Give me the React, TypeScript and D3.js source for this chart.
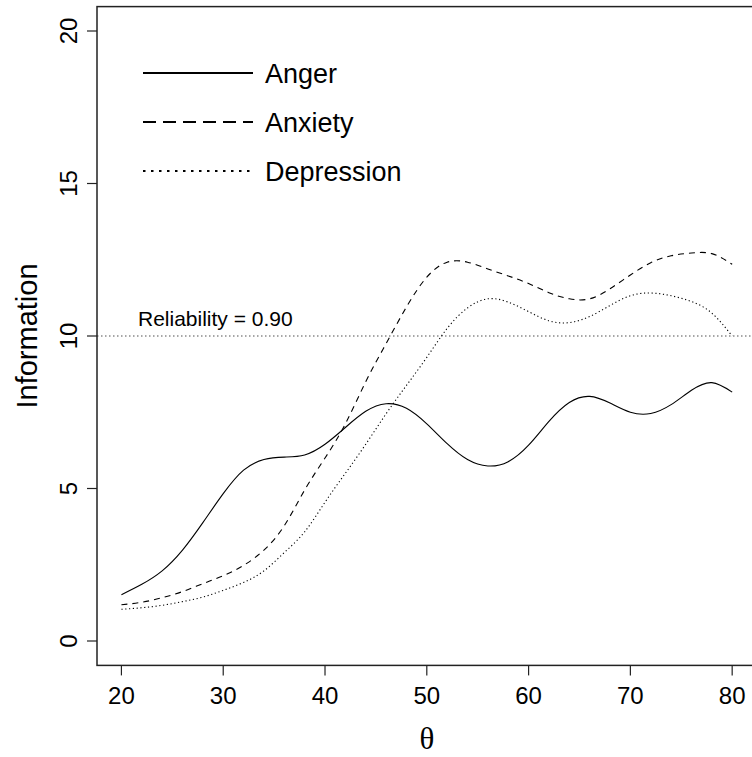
import React, { useEffect, useRef } from 'react';
import * as d3 from 'd3';

// theta grid shared by all three curves
const theta = [20, 22, 24, 26, 28, 30, 32, 34, 36, 38, 40, 42, 44, 46, 48, 50, 52, 54, 56, 58, 60, 62, 64, 66, 68, 70, 72, 74, 76, 78, 80];

const anger = [1.52, 1.86, 2.30, 2.98, 3.88, 4.83, 5.60, 5.95, 6.03, 6.10, 6.45, 7.00, 7.53, 7.78, 7.63, 7.12, 6.47, 5.95, 5.74, 5.88, 6.42, 7.20, 7.82, 8.02, 7.80, 7.50, 7.46, 7.75, 8.22, 8.47, 8.16];
const anxiety = [1.19, 1.27, 1.42, 1.62, 1.88, 2.14, 2.48, 2.98, 3.78, 4.95, 6.00, 7.12, 8.50, 9.75, 10.95, 11.93, 12.42, 12.42, 12.20, 11.97, 11.72, 11.42, 11.22, 11.22, 11.55, 12.00, 12.40, 12.63, 12.72, 12.70, 12.35];
const depression = [1.04, 1.09, 1.17, 1.29, 1.44, 1.66, 1.92, 2.30, 2.90, 3.58, 4.55, 5.50, 6.45, 7.45, 8.38, 9.30, 10.25, 10.92, 11.22, 11.11, 10.80, 10.50, 10.44, 10.64, 11.00, 11.32, 11.41, 11.32, 11.13, 10.75, 10.00];

const seriesNames = ['Anger', 'Anxiety', 'Depression'];
const xTicks = [20, 30, 40, 50, 60, 70, 80];
const yTicks = [0, 5, 10, 15, 20];
const reliabilityLevel = 10;
const reliabilityLabel = 'Reliability = 0.90';

const W = 752;
const H = 757;
const sans = '"Liberation Sans", Arial, Helvetica, sans-serif';

export default function App() {
  const ref = useRef<SVGSVGElement>(null);

  useEffect(() => {
    const svg = d3.select(ref.current);
    svg.selectAll('*').remove();

    // R-style 4% padding around data ranges
    const x = d3.scaleLinear().domain([17.6, 82.4]).range([97, 756.6]);
    const y = d3.scaleLinear().domain([-0.8, 20.8]).range([665.4, 6.6]);

    const styles = [
      { dash: null, legendDash: null },
      { dash: '6,5', legendDash: '13,7' },
      { dash: '1.2,2.6', legendDash: '2.5,5.5' },
    ];
    const values = [anger, anxiety, depression];

    // reliability reference line
    svg.append('line')
      .attr('x1', x.range()[0]).attr('x2', x.range()[1])
      .attr('y1', y(reliabilityLevel)).attr('y2', y(reliabilityLevel))
      .attr('stroke', '#8a8a8a')
      .attr('stroke-width', 1.5)
      .attr('stroke-dasharray', '1.5,2.5');

    svg.append('text')
      .attr('x', 138).attr('y', 326)
      .attr('font-family', sans).attr('font-size', 21)
      .text(reliabilityLabel);

    const line = d3.line<number>()
      .x((_, i) => x(theta[i]))
      .y(d => y(d))
      .curve(d3.curveNatural);

    values.forEach((v, i) => {
      svg.append('path')
        .datum(v)
        .attr('fill', 'none')
        .attr('stroke', '#000')
        .attr('stroke-width', 1.1)
        .attr('stroke-dasharray', styles[i].dash)
        .attr('d', line);
    });

    // box
    svg.append('rect')
      .attr('x', x.range()[0]).attr('y', y.range()[1])
      .attr('width', x.range()[1] - x.range()[0])
      .attr('height', y.range()[0] - y.range()[1])
      .attr('fill', 'none')
      .attr('stroke', '#222')
      .attr('stroke-width', 1.5);

    // x axis
    const gx = svg.append('g');
    xTicks.forEach(t => {
      gx.append('line')
        .attr('x1', x(t)).attr('x2', x(t))
        .attr('y1', y.range()[0]).attr('y2', y.range()[0] + 10)
        .attr('stroke', '#222').attr('stroke-width', 1.2);
      gx.append('text')
        .attr('x', x(t)).attr('y', 704)
        .attr('text-anchor', 'middle')
        .attr('font-family', sans).attr('font-size', 24)
        .text(t);
    });

    // y axis, labels rotated like R's las=0
    const gy = svg.append('g');
    yTicks.forEach(t => {
      gy.append('line')
        .attr('x1', 87).attr('x2', x.range()[0])
        .attr('y1', y(t)).attr('y2', y(t))
        .attr('stroke', '#222').attr('stroke-width', 1.2);
      gy.append('text')
        .attr('transform', `translate(77,${y(t)}) rotate(-90)`)
        .attr('text-anchor', 'middle')
        .attr('font-family', sans).attr('font-size', 24)
        .text(t);
    });

    svg.append('text')
      .attr('transform', 'translate(37,336) rotate(-90)')
      .attr('text-anchor', 'middle')
      .attr('font-family', sans).attr('font-size', 29)
      .text('Information');

    svg.append('text')
      .attr('x', 427).attr('y', 749)
      .attr('text-anchor', 'middle')
      .attr('font-family', '"Liberation Serif", "Times New Roman", serif')
      .attr('font-size', 31)
      .text('θ');

    // legend
    const rows = [73, 122, 171];
    seriesNames.forEach((name, i) => {
      svg.append('line')
        .attr('x1', 143).attr('x2', 253)
        .attr('y1', rows[i]).attr('y2', rows[i])
        .attr('stroke', '#000')
        .attr('stroke-width', 2.2)
        .attr('stroke-dasharray', styles[i].legendDash);
      svg.append('text')
        .attr('x', 265).attr('y', rows[i] + 9.7)
        .attr('font-family', sans).attr('font-size', 27)
        .text(name);
    });
  }, []);

  return (
    <svg
      ref={ref}
      width={W}
      height={H}
      style={{ position: 'absolute', left: 0, top: 0, background: '#fff' }}
    />
  );
}
